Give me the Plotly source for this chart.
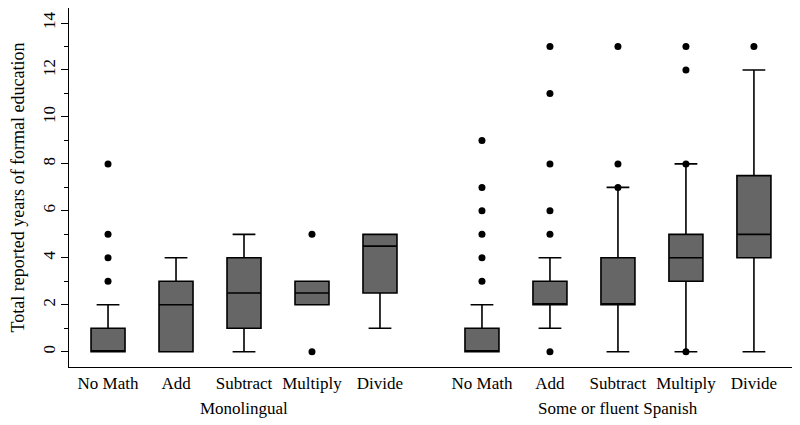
import plotly.graph_objects as go

# Categories
skills = ["No Math", "Add", "Subtract", "Multiply", "Divide"]
groups = ["Monolingual", "Some or fluent Spanish"]
positions = [0, 1, 2, 3, 4, 5.5, 6.5, 7.5, 8.5, 9.5]
tick_labels = skills + skills
group_centers = [2, 7.5]

# Box statistics (Monolingual x5, then Spanish x5)
q1 = [0, 0, 1, 2, 2.5, 0, 2, 2, 3, 4]
median = [0, 2, 2.5, 2.5, 4.5, 0, 2, 2, 4, 5]
q3 = [1, 3, 4, 3, 5, 1, 3, 4, 5, 7.5]
lowerfence = [0, 0, 0, 2, 1, 0, 1, 0, 0, 0]
upperfence = [2, 4, 5, 3, 5, 2, 4, 7, 8, 12]

# Outliers: (box index, value)
outlier_box = [0, 0, 0, 0, 3, 3,
               5, 5, 5, 5, 5, 5,
               6, 6, 6, 6, 6, 6,
               7, 7, 7,
               8, 8, 8, 8,
               9]
outlier_val = [3, 4, 5, 8, 0, 5,
               3, 4, 5, 6, 7, 9,
               0, 5, 6, 8, 11, 13,
               7, 8, 13,
               0, 8, 12, 13,
               13]

font_family = "Liberation Serif, Times New Roman, serif"

fig = go.Figure()
fig.add_trace(go.Box(
    x=positions, q1=q1, median=median, q3=q3,
    lowerfence=lowerfence, upperfence=upperfence,
    width=0.5, whiskerwidth=0.67,
    fillcolor="#666666",
    line=dict(color="black", width=1.6),
    boxpoints=False, showlegend=False, hoverinfo="skip",
))
fig.add_trace(go.Scatter(
    x=[positions[i] for i in outlier_box], y=outlier_val,
    mode="markers", marker=dict(color="black", size=7),
    showlegend=False, hoverinfo="skip",
))

for name, cx in zip(groups, group_centers):
    fig.add_annotation(x=cx, xref="x", y=0, yref="paper", text=name,
                       showarrow=False, yanchor="middle", yshift=-41,
                       font=dict(size=17, family=font_family, color="black"))

fig.update_xaxes(
    range=[-0.574, 10.06], tickvals=positions, ticktext=tick_labels,
    showline=True, linecolor="black", linewidth=1.2, ticks="",
    showgrid=False, zeroline=False,
    tickfont=dict(size=17, family=font_family, color="black"),
)
fig.update_yaxes(
    range=[-0.65, 14.64], tickvals=[0, 2, 4, 6, 8, 10, 12, 14],
    showline=True, linecolor="black", linewidth=1.2,
    ticks="outside", ticklen=7, tickcolor="black", tickwidth=1,
    minor=dict(tickvals=[1, 3, 5, 7, 9, 11, 13], ticks="outside", ticklen=4,
               tickcolor="black", tickwidth=1),
    tickangle=-90, showgrid=False, zeroline=False, ticklabelstandoff=-1,
    tickfont=dict(size=17, family=font_family, color="black"),
    title=dict(text="Total reported years of formal education",
               font=dict(size=18, family=font_family, color="black"), standoff=13),
)
# page body adds an 8px offset; margins compensate so the plot area lands
# at x 69-792, y 8-367 in the window
fig.update_layout(
    width=800, height=425,
    margin=dict(l=61, r=16, t=0, b=66, autoexpand=False),
    plot_bgcolor="white", paper_bgcolor="white",
    font=dict(family=font_family, color="black"),
)
fig.write_html("out.html")
